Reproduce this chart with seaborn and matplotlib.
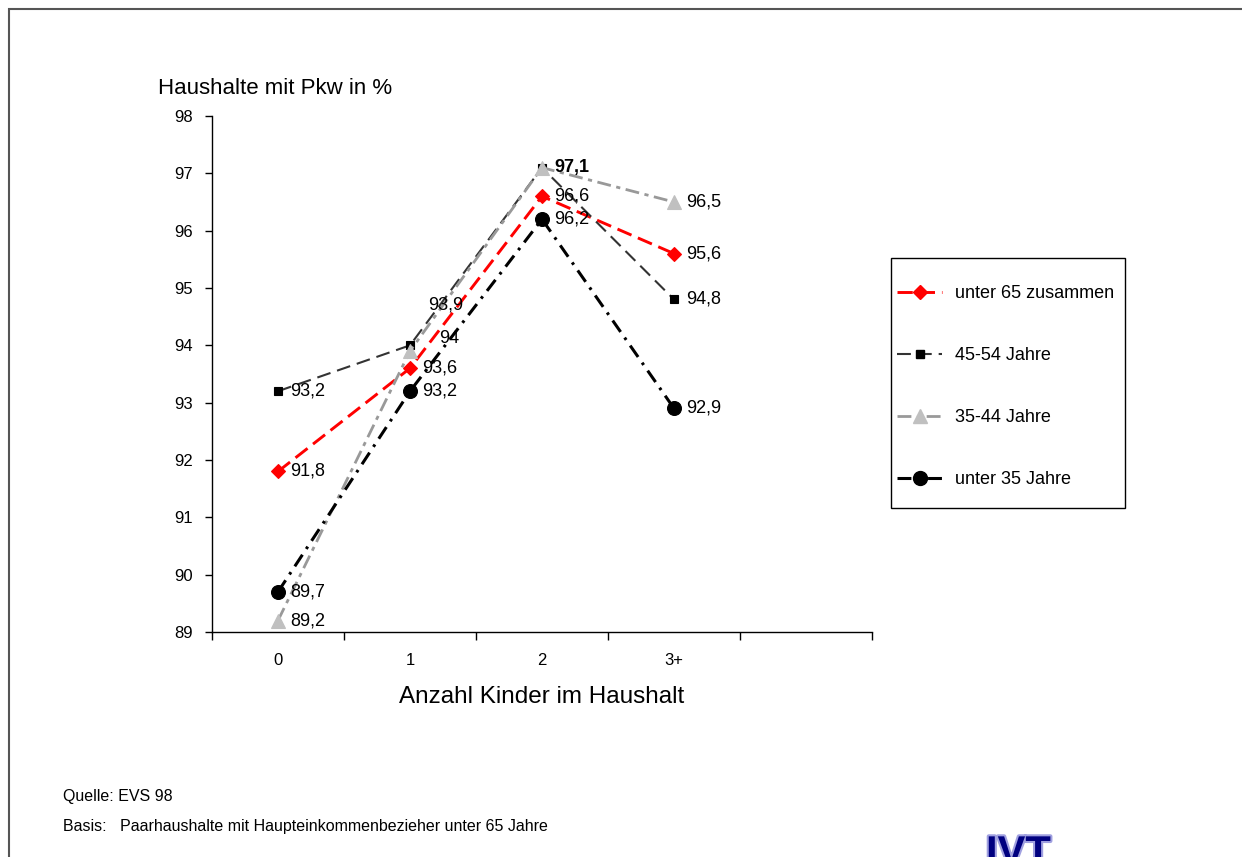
import matplotlib
matplotlib.use("Agg")
import matplotlib.pyplot as plt
import matplotlib.patheffects as pe
from matplotlib.patches import Rectangle
from matplotlib.lines import Line2D
import numpy as np
import pandas as pd
import seaborn as sns

# Data
categories = ["0", "1", "2", "3+"]
unter65 = [91.8, 93.6, 96.6, 95.6]
j45_54 = [93.2, 94.0, 97.1, 94.8]
j35_44 = [89.2, 93.9, 97.1, 96.5]
unter35 = [89.7, 93.2, 96.2, 92.9]
series_names = ["unter 65 zusammen", "45-54 Jahre", "35-44 Jahre", "unter 35 Jahre"]
y_ticks = [89, 90, 91, 92, 93, 94, 95, 96, 97, 98]

sns.set_theme(style="white")
plt.rcParams["font.family"] = ["Liberation Sans", "DejaVu Sans"]
plt.rcParams["lines.scale_dashes"] = False
for key in ["text.color", "axes.labelcolor", "xtick.color", "ytick.color"]:
    plt.rcParams[key] = "black"

series_values = [unter65, j45_54, j35_44, unter35]
frames = []
for name, vals in zip(series_names, series_values):
    frames.append(pd.DataFrame({"pos": np.arange(len(categories)),
                                "Kinder": categories,
                                "wert": vals,
                                "gruppe": name}))
df = pd.concat(frames, ignore_index=True)

styles = {
    "unter 65 zusammen": dict(color="#ff0000", lw=2.1, ls=(0, (11, 5)),
                              marker="D", ms=7, mfc="#ff0000", mec="#ff0000"),
    "45-54 Jahre": dict(color="#333333", lw=1.5, ls=(0, (10, 5)),
                        marker="s", ms=5.5, mfc="#000000", mec="#000000"),
    "35-44 Jahre": dict(color="#999999", lw=2.0, ls=(0, (10, 4, 3, 4)),
                        marker="^", ms=10, mfc="#c0c0c0", mec="#c0c0c0"),
    "unter 35 Jahre": dict(color="#000000", lw=2.2, ls=(0, (10, 5, 2, 5)),
                           marker="o", ms=10, mfc="#000000", mec="#000000"),
}

fig = plt.figure(figsize=(12.42, 8.57), dpi=100)
ax = fig.add_axes([212 / 1242, 225 / 857, 660 / 1242, 516 / 857])

handles = []
for name in series_names:
    st = styles[name]
    sub = df[df["gruppe"] == name]
    sns.lineplot(data=sub, x="pos", y="wert", ax=ax, color=st["color"],
                 linewidth=st["lw"], linestyle=st["ls"], marker=st["marker"],
                 markersize=st["ms"], markerfacecolor=st["mfc"],
                 markeredgecolor=st["mec"], markeredgewidth=0.8,
                 legend=False, sort=False, estimator=None)
    handles.append(Line2D([], [], color=st["color"], linewidth=st["lw"],
                          linestyle=st["ls"], marker=st["marker"],
                          markersize=st["ms"], markerfacecolor=st["mfc"],
                          markeredgecolor=st["mec"]))

# value labels (German decimal comma)
def fmt(v):
    s = f"{v:.1f}".replace(".", ",")
    return s[:-2] if s.endswith(",0") else s

offsets = {
    ("35-44 Jahre", 1): (13, 33),
    ("45-54 Jahre", 1): (21, 5),
    ("35-44 Jahre", 2): None,
}
for name, vals in zip(series_names, series_values):
    for i, v in enumerate(vals):
        off = offsets.get((name, i), (9, 0))
        if off is None:
            continue
        weight = "bold" if (name == "45-54 Jahre" and i == 2) else "normal"
        ax.annotate(fmt(v), (i, v), xytext=off, textcoords="offset points",
                    ha="left", va="center", fontsize=13, color="black",
                    fontweight=weight)

ax.set_xlim(-0.5, 4.5)
ax.set_ylim(89, 98)
ax.set_yticks(y_ticks)
ax.set_yticklabels([str(t) for t in y_ticks], fontsize=12)
ax.set_xticks(range(len(categories)))
ax.set_xticklabels(categories, fontsize=12)
ax.set_xticks(np.arange(-0.5, 5.0, 1.0), minor=True)
ax.tick_params(axis="x", which="major", length=0, pad=15)
ax.tick_params(axis="x", which="minor", length=6, width=1, color="black",
               direction="out", bottom=True)
ax.tick_params(axis="y", length=5, width=1, color="black", direction="out",
               left=True, pad=9)
for sp in ["top", "right"]:
    ax.spines[sp].set_visible(False)
for sp in ["left", "bottom"]:
    ax.spines[sp].set_color("black")
    ax.spines[sp].set_linewidth(1.0)
ax.set_xlabel("Anzahl Kinder im Haushalt", fontsize=17.5, labelpad=13)
ax.set_ylabel("")
ax.grid(False)

fig.text(158 / 1242, 1 - 88 / 857, "Haushalte mit Pkw in %", fontsize=16,
         ha="left", va="center")

# legend box drawn separately so the padding can follow the page layout
fig.patches.append(Rectangle((891 / 1242, 1 - 508 / 857), 234 / 1242,
                             250 / 857, transform=fig.transFigure,
                             fill=False, edgecolor="black", linewidth=1.0))
leg = fig.legend(handles, series_names, loc="upper left",
                 bbox_to_anchor=(897 / 1242, 1 - 285 / 857), fontsize=13,
                 frameon=False, handlelength=2.5, labelspacing=2.5,
                 borderpad=0, borderaxespad=0, handletextpad=0.7)

fig.text(63 / 1242, 1 - 797 / 857, "Quelle: EVS 98", fontsize=11.5,
         ha="left", va="center")
fig.text(63 / 1242, 1 - 826 / 857,
         "Basis:   Paarhaushalte mit Haupteinkommenbezieher unter 65 Jahre",
         fontsize=11.5, ha="left", va="center")

# page frame
fig.patches.append(Rectangle((9 / 1242, -0.1), 1.2, 1.1 - 9 / 857,
                             transform=fig.transFigure, fill=False,
                             edgecolor="#555555", linewidth=1.5))

# logo at the page bottom
fig.text(986 / 1242, 1 - 834 / 857, "IVT", fontsize=30, fontweight="bold",
         color="#000080", ha="left", va="top",
         path_effects=[pe.withStroke(linewidth=3, foreground="#a0a0e0")])

fig.savefig("out.png", dpi=100)
